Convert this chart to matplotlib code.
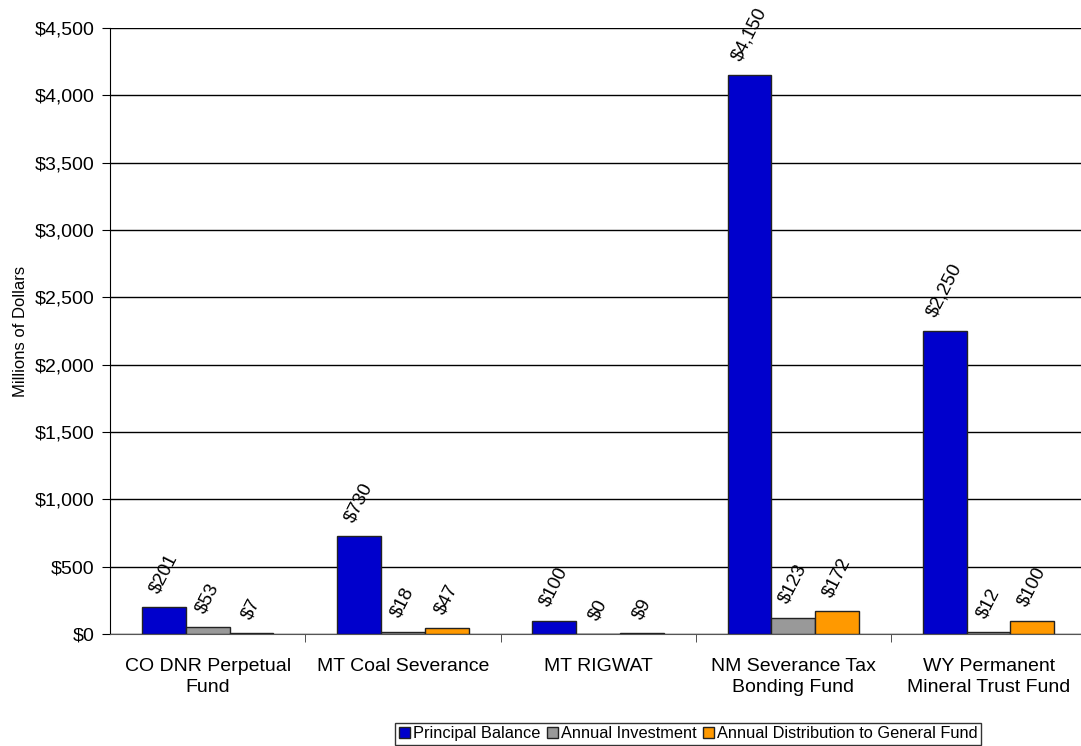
import matplotlib
matplotlib.use("Agg")
import matplotlib.pyplot as plt
import numpy as np

plt.rcParams['font.family'] = ['Liberation Sans', 'DejaVu Sans']

# Fund data (millions of dollars)
funds = ["CO DNR Perpetual\nFund", "MT Coal Severance", "MT RIGWAT",
         "NM Severance Tax\nBonding Fund", "WY Permanent\nMineral Trust Fund"]
principal = [201, 730, 100, 4150, 2250]
investment = [53, 18, 0, 123, 12]
distribution = [7, 47, 9, 172, 100]

series = [
    ("Principal Balance", principal, "#0000CC"),
    ("Annual Investment", investment, "#999999"),
    ("Annual Distribution to General Fund", distribution, "#FF9900"),
]

fig = plt.figure(figsize=(10.81, 7.46), dpi=100)
ax = fig.add_axes([0.1018, 0.150, 0.903, 0.8125])

x = np.arange(len(funds))
width = 0.2245
fs = 14

for i, (name, vals, color) in enumerate(series):
    pos = x + (i - 1) * width
    ax.bar(pos, vals, width, color=color, edgecolor="#222222", linewidth=1.0,
           label=name, zorder=3)
    for p, v in zip(pos, vals):
        ax.annotate(f"${v:,}", (p, v), xytext=(0, 8), textcoords="offset points",
                    ha="center", va="bottom", rotation=63, fontsize=13.5, zorder=4)

ax.set_xlim(-0.5, len(funds) - 0.5)
ax.set_ylim(0, 4500)
ax.set_yticks(np.arange(0, 4501, 500))
ax.set_yticklabels([f"${v:,}" for v in range(0, 4501, 500)], fontsize=fs)
ax.yaxis.grid(True, color="black", linewidth=1.0, zorder=0)
ax.set_axisbelow(True)

ax.set_xticks(x)
ax.set_xticklabels(funds, fontsize=fs, linespacing=1.35)
ax.set_xticks(np.arange(0.5, len(funds) - 1, 1.0), minor=True)
ax.tick_params(axis="x", which="major", length=0, pad=17)
ax.tick_params(axis="x", which="minor", length=6, direction="out", color="#333333")
ax.tick_params(axis="y", length=6, direction="out", pad=5)

for s in ["top", "right"]:
    ax.spines[s].set_visible(False)
ax.spines["left"].set_color("black")
ax.spines["bottom"].set_color("#555555")

ax.set_ylabel("Millions of Dollars", fontsize=12, labelpad=5)

leg = fig.legend(loc="upper center", bbox_to_anchor=(688 / 1081, 1 - 723 / 746),
                 ncol=3, fontsize=11.8, frameon=True, fancybox=False,
                 edgecolor="black", handlelength=0.7, handleheight=0.7,
                 handletextpad=0.15, columnspacing=0.4, borderpad=0.2,
                 borderaxespad=0)
leg.get_frame().set_linewidth(1.0)

fig.savefig("out.png", dpi=100)
